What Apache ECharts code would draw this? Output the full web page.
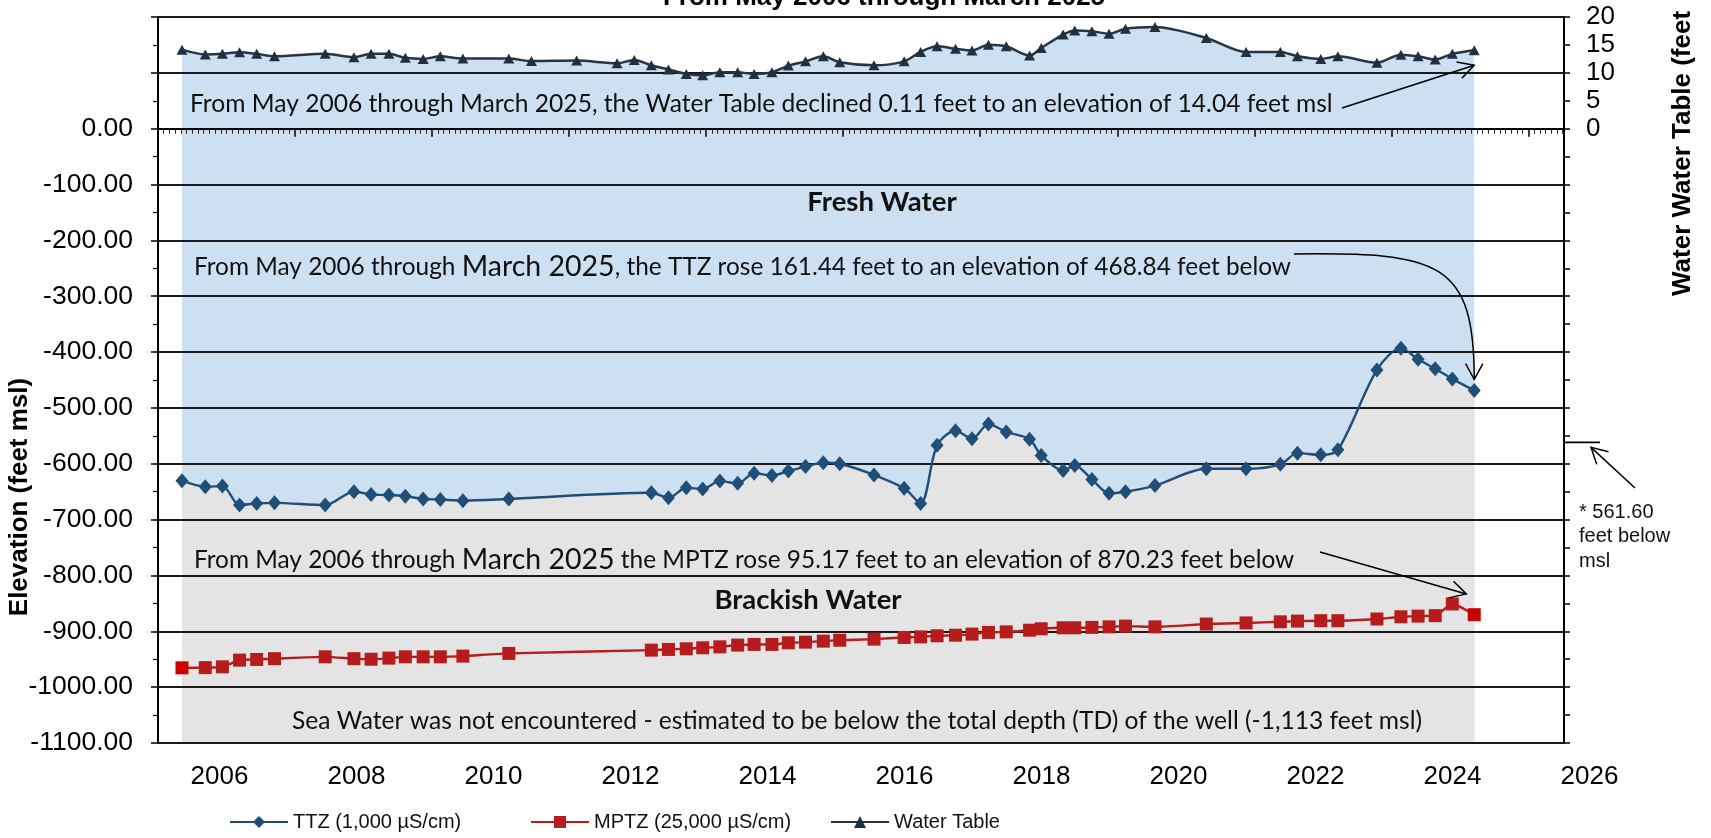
<!DOCTYPE html>
<html>
<head>
<meta charset="utf-8">
<title>TTZ, MPTZ and Water Table</title>
<script src="https://cdn.jsdelivr.net/npm/echarts@6/dist/echarts.min.js"></script>
<style>
  html, body { margin: 0; padding: 0; background: #fff; }
  #chart { width: 1711px; height: 838px; }
</style>
</head>
<body>
<div id="chart"></div>
<script>
// sample dates as decimal years
var wtDates = [2006.35, 2006.69, 2006.94, 2007.19, 2007.44, 2007.70, 2008.44, 2008.86, 2009.11, 2009.37,
  2009.61, 2009.87, 2010.12, 2010.45, 2011.12, 2011.45, 2012.11, 2012.70, 2012.95, 2013.20,
  2013.45, 2013.71, 2013.95, 2014.20, 2014.46, 2014.70, 2014.96, 2015.20, 2015.45, 2015.71,
  2015.95, 2016.45, 2016.89, 2017.13, 2017.37, 2017.64, 2017.88, 2018.12, 2018.38, 2018.72,
  2018.89, 2019.21, 2019.38, 2019.63, 2019.88, 2020.12, 2020.55, 2021.30, 2021.88, 2022.38,
  2022.63, 2022.97, 2023.22, 2023.79, 2024.14, 2024.39, 2024.64, 2024.89, 2025.21]
// water table, feet msl (right axis)
var wtValues = [14.15, 13.3, 13.4, 13.7, 13.4, 12.96, 13.4, 12.8, 13.4, 13.4,
  12.7, 12.5, 12.96, 12.55, 12.55, 12.1, 12.2, 11.7, 12.3, 11.35,
  10.6, 9.8, 9.55, 10.1, 10.1, 9.8, 10.1, 11.3, 12.06, 12.96,
  11.9, 11.35, 12.06, 13.75, 14.75, 14.3, 14.0, 15.05, 14.75, 13.1,
  14.45, 16.85, 17.6, 17.45, 17.0, 17.9, 18.2, 16.25, 13.75, 13.75,
  12.96, 12.5, 12.96, 11.8, 13.26, 12.96, 12.37, 13.4, 14.04]

// TTZ / MPTZ logging dates
var zoneDates = [2006.35, 2006.69, 2006.94, 2007.19, 2007.44, 2007.70, 2008.44, 2008.86, 2009.11, 2009.37,
  2009.61, 2009.87, 2010.12, 2010.45, 2011.12, 2013.20, 2013.45, 2013.71, 2013.95, 2014.20,
  2014.46, 2014.70, 2014.96, 2015.20, 2015.45, 2015.71, 2015.95, 2016.45, 2016.89, 2017.13,
  2017.37, 2017.64, 2017.88, 2018.12, 2018.38, 2018.72, 2018.89, 2019.21, 2019.38, 2019.63,
  2019.88, 2020.12, 2020.55, 2021.30, 2021.88, 2022.38, 2022.63, 2022.97, 2023.22, 2023.79,
  2024.14, 2024.39, 2024.64, 2024.89, 2025.21]
var ttzValues = [-630.28, -641, -640, -674, -671, -670, -674, -650, -655, -656,
  -658, -663, -664, -666, -663, -652, -661, -643, -645, -631,
  -635, -617, -621, -613, -605, -598, -600, -620, -644, -671,
  -567, -541, -555, -529, -543, -556, -585, -612, -603, -628,
  -653, -650, -639, -609, -609, -601, -581, -584, -575, -432,
  -393, -413, -430, -448, -468.84]
var mptzValues = [-965.40, -965, -963.6, -951.6, -950.4, -949, -945.7, -949, -950, -948,
  -945.7, -945.7, -945.7, -944.4, -939.6, -933.7, -932.5, -931.3, -929.5, -927.8,
  -924.7, -923.5, -923.5, -920.6, -919.4, -917.6, -916, -914, -911, -910,
  -908, -907, -905, -902, -901, -898, -895.5, -893.7, -893.7, -893,
  -892, -890.7, -892, -887, -885, -883, -881.7, -881, -881, -878,
  -874, -872.8, -872, -851, -870.23]

var xLabelYears = [2006, 2008, 2010, 2012, 2014, 2016, 2018, 2020, 2022, 2024, 2026]
var depthMark = -561.60

var xMin = 2006, xMax = 2026.52
var AXIS_FONT = '"Liberation Sans", Arial, sans-serif'
var NOTE_FONT = 'Lato, "Open Sans", sans-serif'

var chart = echarts.init(document.getElementById('chart'))

function pairs(xs, ys) {
  return xs.map(function (x, i) { return [x, ys[i]] })
}

var legendCommon = {
  top: 812, padding: 0, itemWidth: 58, itemHeight: 15,
  textStyle: { fontFamily: AXIS_FONT, fontSize: 20, color: '#111' }
}

chart.setOption({
  animation: false,
  backgroundColor: '#fff',
  grid: [
    { left: 158, top: 17, width: 1406, height: 726, outerBoundsMode: 'none' },
    { left: 151, top: 17, width: 1507, height: 726, outerBoundsMode: 'none' }
  ],
  legend: [
    Object.assign({ data: ['TTZ (1,000 µS/cm)'], left: 229 }, legendCommon),
    Object.assign({ data: ['MPTZ (25,000 µS/cm)'], left: 530 }, legendCommon),
    Object.assign({ data: ['Water Table'], left: 830 }, legendCommon)
  ],
  xAxis: [
    {
      type: 'value', gridIndex: 0, min: xMin, max: xMax, interval: 2, z: 3,
      axisLine: { lineStyle: { color: '#000', width: 2 } },
      axisTick: { show: true, length: 8, lineStyle: { color: '#000', width: 1.5 } },
      minorTick: { show: true, splitNumber: 24, length: 5, lineStyle: { color: '#222', width: 1 } },
      axisLabel: { show: false },
      splitLine: { show: false }
    },
    {
      // label-only axis: year names sit between the two-year ticks
      type: 'value', gridIndex: 1, min: 2006, max: 2028, interval: 1,
      axisLine: { show: false }, axisTick: { show: false }, splitLine: { show: false },
      axisLabel: {
        margin: 21, fontSize: 26, fontFamily: AXIS_FONT, color: '#000',
        formatter: function (v) {
          var y = Math.round(v) - 1
          return (Math.round(v) % 2 === 1 && xLabelYears.indexOf(y) >= 0) ? String(y) : ''
        }
      }
    }
  ],
  yAxis: [
    {
      type: 'value', gridIndex: 0, min: -1100, max: 200, interval: 100, z: 3,
      axisLine: { show: true, lineStyle: { color: '#000', width: 2 } },
      axisTick: { show: true, length: 7, lineStyle: { color: '#000', width: 1.5 } },
      minorTick: { show: true, splitNumber: 2, length: 5, lineStyle: { color: '#000', width: 1.2 } },
      splitLine: { show: true, lineStyle: { color: '#1a1a1a', width: 1.8 } },
      axisLabel: {
        margin: 25, fontSize: 26.5, fontFamily: AXIS_FONT, color: '#000',
        formatter: function (v) { return v > 0 ? '' : v.toFixed(2) }
      }
    },
    {
      type: 'value', gridIndex: 0, position: 'right', min: -110, max: 20, interval: 5, z: 3,
      axisLine: { show: true, lineStyle: { color: '#000', width: 2 } },
      axisTick: { show: true, length: 6, lineStyle: { color: '#000', width: 1.5 } },
      splitLine: { show: false },
      axisLabel: {
        margin: 22, fontSize: 26, fontFamily: AXIS_FONT, color: '#000',
        formatter: function (v) { return v < 0 ? '' : String(v) }
      }
    },
    { type: 'value', gridIndex: 1, show: false }
  ],
  series: [
    {
      name: 'wtArea', type: 'line', yAxisIndex: 1, silent: true, z: 1,
      data: pairs(wtDates, wtValues), smooth: 0.3, showSymbol: false,
      lineStyle: { width: 0 },
      areaStyle: { color: '#CDE0F1', opacity: 1, origin: 'start' }
    },
    {
      name: 'ttzArea', type: 'line', yAxisIndex: 0, silent: true, z: 2,
      data: pairs(zoneDates, ttzValues), smooth: 0.3, showSymbol: false,
      lineStyle: { width: 0 },
      areaStyle: { color: '#E4E4E4', opacity: 1, origin: 'start' }
    },
    {
      name: 'TTZ (1,000 µS/cm)', type: 'line', yAxisIndex: 0, z: 5,
      data: pairs(zoneDates, ttzValues), smooth: 0.3,
      symbol: 'diamond', symbolSize: [13, 15], showAllSymbol: true,
      lineStyle: { color: '#1F4E79', width: 2.4 },
      itemStyle: { color: '#1F4E79' }
    },
    {
      name: 'MPTZ (25,000 µS/cm)', type: 'line', yAxisIndex: 0, z: 5,
      data: pairs(zoneDates, mptzValues).map(function (p, i, arr) {
        return (i === 0 || i === arr.length - 1) ? { value: p, itemStyle: { color: '#CC0000' } } : p
      }),
      smooth: 0.2,
      symbol: 'rect', symbolSize: 13, showAllSymbol: true,
      lineStyle: { color: '#B71C1C', width: 2.4 },
      itemStyle: { color: '#B71C1C' }
    },
    {
      name: 'Water Table', type: 'line', yAxisIndex: 1, z: 5,
      data: pairs(wtDates, wtValues), smooth: 0.3,
      symbol: 'triangle', symbolSize: [11, 10], showAllSymbol: true,
      lineStyle: { color: '#253545', width: 2.5 },
      itemStyle: { color: '#1F3040' }
    }
  ]
})

// open "V" head at tip, pointing away from 'from'
function arrowHead(tip, from) {
  var a = Math.atan2(from[1] - tip[1], from[0] - tip[0])
  var len = 18, ang = 0.5
  return {
    type: 'polyline', z: 10, silent: true,
    shape: { points: [
      [tip[0] + len * Math.cos(a + ang), tip[1] + len * Math.sin(a + ang)],
      tip,
      [tip[0] + len * Math.cos(a - ang), tip[1] + len * Math.sin(a - ang)]
    ] },
    style: { stroke: '#000', lineWidth: 1.5, fill: null }
  }
}

function straightArrow(from, tip) {
  return [
    { type: 'line', z: 10, silent: true,
      shape: { x1: from[0], y1: from[1], x2: tip[0], y2: tip[1] },
      style: { stroke: '#000', lineWidth: 1.5 } },
    arrowHead(tip, from)
  ]
}

function note(x, y, text, extra) {
  return {
    type: 'text', z: 10, silent: true, x: x, y: y,
    style: Object.assign({
      text: text, fontFamily: NOTE_FONT, fontSize: 24.6, fill: '#111',
      align: 'left', verticalAlign: 'middle'
    }, extra || {})
  }
}

function drawNotes() {
  var nz = zoneDates.length - 1
  var lastWt = chart.convertToPixel({ seriesIndex: 4 }, [wtDates[wtDates.length - 1], wtValues[wtValues.length - 1]])
  var lastTtz = chart.convertToPixel({ seriesIndex: 2 }, [zoneDates[nz], ttzValues[nz]])
  var peakMptz = chart.convertToPixel({ seriesIndex: 3 }, [zoneDates[nz - 1], mptzValues[nz - 1]])
  var rightX = chart.convertToPixel({ xAxisIndex: 0 }, xMax)
  var depthY = chart.convertToPixel({ yAxisIndex: 0 }, depthMark)

  var big = { fontSize: 28.5, fontFamily: NOTE_FONT, fill: '#111' }
  var small = { fontSize: 24.4, fontFamily: NOTE_FONT, fill: '#111' }
  var g = []

  g.push({
    type: 'text', z: 10, silent: true, x: 884, y: -2,
    style: { text: 'From May 2006 through March 2025', fontFamily: AXIS_FONT, fontSize: 26,
      fontWeight: 'bold', fill: '#000', align: 'center', verticalAlign: 'middle' }
  })
  g.push({
    type: 'text', z: 10, silent: true, x: 20, y: 497, rotation: Math.PI / 2,
    style: { text: 'Elevation (feet msl)', fontFamily: AXIS_FONT, fontSize: 26,
      fontWeight: 'bold', fill: '#000', align: 'center', verticalAlign: 'middle' }
  })
  g.push({
    type: 'text', z: 10, silent: true, x: 1683, y: 296, rotation: Math.PI / 2,
    style: { text: 'Water Water Table (feet', fontFamily: AXIS_FONT, fontSize: 26,
      fontWeight: 'bold', fill: '#000', align: 'left', verticalAlign: 'middle' }
  })

  g.push(note(190, 104, 'From May 2006 through March 2025, the Water Table declined 0.11 feet to an elevation of 14.04 feet msl'))
  g = g.concat(straightArrow([1342, 108], [lastWt[0], lastWt[1] + 15]))

  g.push(note(882, 202, 'Fresh Water', { align: 'center', fontWeight: 'bold', fontSize: 27.5 }))

  g.push(note(194, 267, '{s|From May 2006 through }{b|March 2025}{s|, the TTZ rose 161.44 feet to an elevation of 468.84 feet below}',
    { rich: { s: small, b: big } }))
  var ttzTip = [lastTtz[0], lastTtz[1] - 11]
  g.push({
    type: 'bezierCurve', z: 10, silent: true,
    shape: { x1: 1294, y1: 254, cpx1: 1440, cpy1: 252, cpx2: ttzTip[0], cpy2: 262, x2: ttzTip[0], y2: ttzTip[1] },
    style: { stroke: '#000', lineWidth: 1.5, fill: null }
  })
  g.push(arrowHead(ttzTip, [ttzTip[0], ttzTip[1] - 30]))

  g.push(note(194, 560, '{s|From May 2006 through }{b|March 2025}{s| the MPTZ rose 95.17 feet to an elevation of 870.23 feet below}',
    { rich: { s: small, b: big } }))
  g = g.concat(straightArrow([1320, 552], [peakMptz[0] + 14, peakMptz[1] - 10]))

  g.push(note(808, 600, 'Brackish Water', { align: 'center', fontWeight: 'bold', fontSize: 27.5 }))

  g.push(note(857, 721, 'Sea Water was not encountered - estimated to be below the total depth (TD) of the well (-1,113 feet msl)',
    { align: 'center' }))

  // depth tick outside the right axis
  g.push({
    type: 'line', z: 10, silent: true,
    shape: { x1: rightX, y1: depthY, x2: rightX + 36, y2: depthY },
    style: { stroke: '#000', lineWidth: 1.8 }
  })
  g = g.concat(straightArrow([1635, 488], [rightX + 27, depthY + 5]))
  g.push({
    type: 'text', z: 10, silent: true, x: 1579, y: 500,
    style: { text: '* 561.60\nfeet below\nmsl', fontFamily: AXIS_FONT, fontSize: 20, lineHeight: 24.5,
      fill: '#111', align: 'left', verticalAlign: 'top' }
  })

  chart.setOption({ graphic: g })
}

drawNotes()
</script>
</body>
</html>
